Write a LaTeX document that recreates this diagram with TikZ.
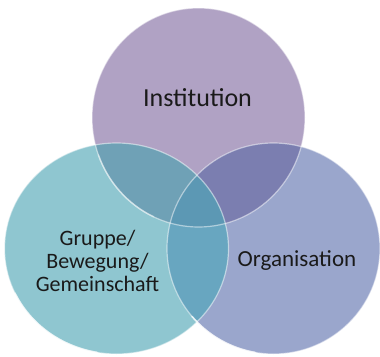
\documentclass[tikz,border=0pt]{standalone}
\usepackage{fontspec}
\setmainfont{Carlito}
\definecolor{ctop}{HTML}{B0A2C4}
\definecolor{cleft}{HTML}{8FC6D0}
\definecolor{cright}{HTML}{9AA6CC}
\definecolor{ctl}{HTML}{6FA1B6}
\definecolor{ctr}{HTML}{7B7EB0}
\definecolor{clr}{HTML}{68A6C0}
\definecolor{cmid}{HTML}{5C98B4}
\definecolor{ctext}{HTML}{1A1A1A}
\tikzset{
  rim/.style={draw=white, draw opacity=0.5, line width=1.2pt},
  gloss/.style={draw=white, draw opacity=0.7, line width=1.6pt, line cap=round},
  lbl/.style={text=ctext, align=center}
}
\begin{document}
\begin{tikzpicture}[x=1pt,y=-1pt]
\useasboundingbox (0,0) rectangle (380,356);
\fill[white] (0,0) rectangle (380,356);
\coordinate (T) at (198.5,117.5);
\coordinate (L) at (116.5,248.5);
\coordinate (R) at (273.5,248.5);
\def\TS{(T) ellipse [x radius=106.5, y radius=109.5]}
\def\LS{(L) ellipse [x radius=112, y radius=105.5]}
\def\RS{(R) ellipse [x radius=106.5, y radius=105.5]}
\fill[ctop] \TS;
\fill[cright] \RS;
\fill[cleft] \LS;
\begin{scope}
  \clip \TS;
  \fill[ctl] \LS;
  \fill[ctr] \RS;
\end{scope}
\begin{scope}
  \clip \LS;
  \fill[clr] \RS;
\end{scope}
\begin{scope}
  \clip \TS;
  \clip \LS;
  \fill[cmid] \RS;
\end{scope}
\draw[rim] \TS;
\draw[rim] \RS;
\draw[rim] \LS;
\draw[gloss, draw opacity=0.35] ([shift={(115:106.5 and 109.5)}]T) arc [start angle=115, end angle=160, x radius=106.5, y radius=109.5];
\draw[gloss] ([shift={(100:112 and 105.5)}]L) arc [start angle=100, end angle=155, x radius=112, y radius=105.5];
\draw[gloss] ([shift={(100:106.5 and 105.5)}]R) arc [start angle=100, end angle=140, x radius=106.5, y radius=105.5];
\node[lbl, font=\fontsize{26}{30}\selectfont] (inst) at (197.5,98) {Institution};
\node[lbl, font=\fontsize{23}{27}\selectfont] (org) at (297,261) {Organisation};
\node[lbl, font=\fontsize{22}{23}\selectfont] (grp) at (97.5,260.5) {Gruppe/\\Bewegung/\\Gemeinschaft};
\end{tikzpicture}
\end{document}
